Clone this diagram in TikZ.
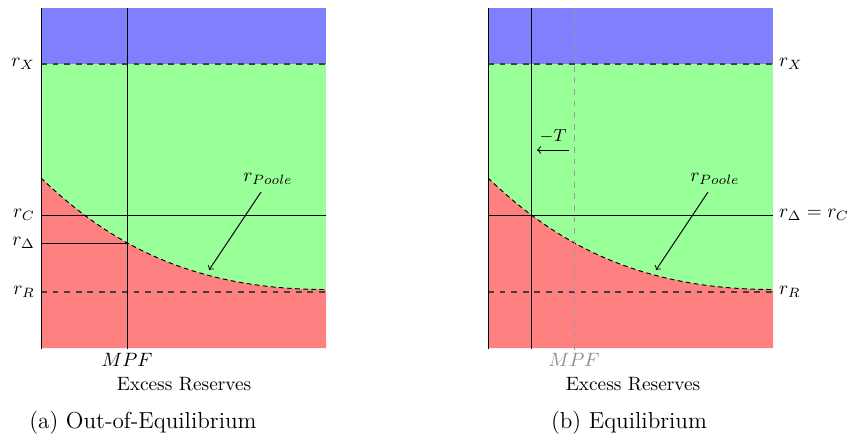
\documentclass[tikz,border=0pt]{standalone}
\usepackage{amsmath}
\begin{document}
\begin{tikzpicture}[x=0.518pt,y=-0.518pt,
  bluereg/.style={fill=blue!50},
  greenreg/.style={fill=green!40},
  redreg/.style={fill=red!50},
  solidline/.style={line width=0.5pt, black},
  dashline/.style={dashed, line width=0.6pt, black!75},
  curveline/.style={line width=0.5pt, black, dash pattern=on 2.4pt off 1.8pt},
  graydash/.style={dashed, line width=0.5pt, black!40},
  arrowline/.style={line width=0.5pt, black, ->},
  leftlbl/.style={anchor=east, inner sep=3pt},
  rightlbl/.style={anchor=west, inner sep=3pt}
]
\useasboundingbox (0,0) rectangle (852,436);

% ---------- left panel ----------
\fill[bluereg] (41,8) rectangle (326,64);
\fill[greenreg] (41,64) rectangle (326,348);
\fill[redreg] (41,178) .. controls (109,243) and (191,289.5) .. (326,289.5)
  -- (326,348) -- (41,348) -- cycle;
\draw[curveline] (41,178) .. controls (109,243) and (191,289.5) .. (326,289.5);
\draw[dashline] (41,64) -- (326,64);
\draw[dashline] (41,292) -- (326,292);
\draw[solidline] (41,215) -- (326,215);
\draw[solidline] (41,243) -- (127,243);
\draw[solidline] (41,8) -- (41,349);
\draw[solidline] (127,8) -- (127,349);

\node[leftlbl] (lx) at (41,64) {$r_X$};
\node[leftlbl] (lc) at (41,215) {$r_C$};
\node[leftlbl] (ld) at (41,243) {$r_\Delta$};
\node[leftlbl] (lr) at (41,292) {$r_R$};
\node (lpoole) at (268,179) {$r_{Poole}$};
\coordinate (lpend) at (209,270);
\draw[arrowline] (261,192) -- (lpend);
\node (lmpf) at (127,360) {$MPF$};
\node (lxr) at (184,384) {Excess Reserves};
\node (lcap) at (143,423) {\large (a) Out-of-Equilibrium};

% ---------- right panel ----------
\fill[bluereg] (488,8) rectangle (773,64);
\fill[greenreg] (488,64) rectangle (773,348);
\fill[redreg] (488,178) .. controls (556,243) and (638,289.5) .. (773,289.5)
  -- (773,348) -- (488,348) -- cycle;
\draw[curveline] (488,178) .. controls (556,243) and (638,289.5) .. (773,289.5);
\draw[dashline] (488,64) -- (773,64);
\draw[dashline] (488,292) -- (773,292);
\draw[solidline] (488,215) -- (773,215);
\draw[solidline] (488,8) -- (488,349);
\draw[solidline] (531,8) -- (531,349);
\draw[graydash] (574,8) -- (574,351);

\node[rightlbl] (rx) at (773,64) {$r_X$};
\node[rightlbl] (rdc) at (773,215) {$r_\Delta = r_C$};
\node[rightlbl] (rr) at (773,292) {$r_R$};
\node (rpoole) at (715,179) {$r_{Poole}$};
\coordinate (rpend) at (656,270);
\draw[arrowline] (708,192) -- (rpend);
\node[font=\small] (rt) at (553,136) {$-T$};
\coordinate (tstart) at (569,150);
\coordinate (tend) at (537,150);
\draw[arrowline] (tstart) -- (tend);
\node[text=black!45] (rmpf) at (574,360) {$MPF$};
\node (rxr) at (633,384) {Excess Reserves};
\node (rcap) at (629,423) {\large (b) Equilibrium};
\end{tikzpicture}
\end{document}
